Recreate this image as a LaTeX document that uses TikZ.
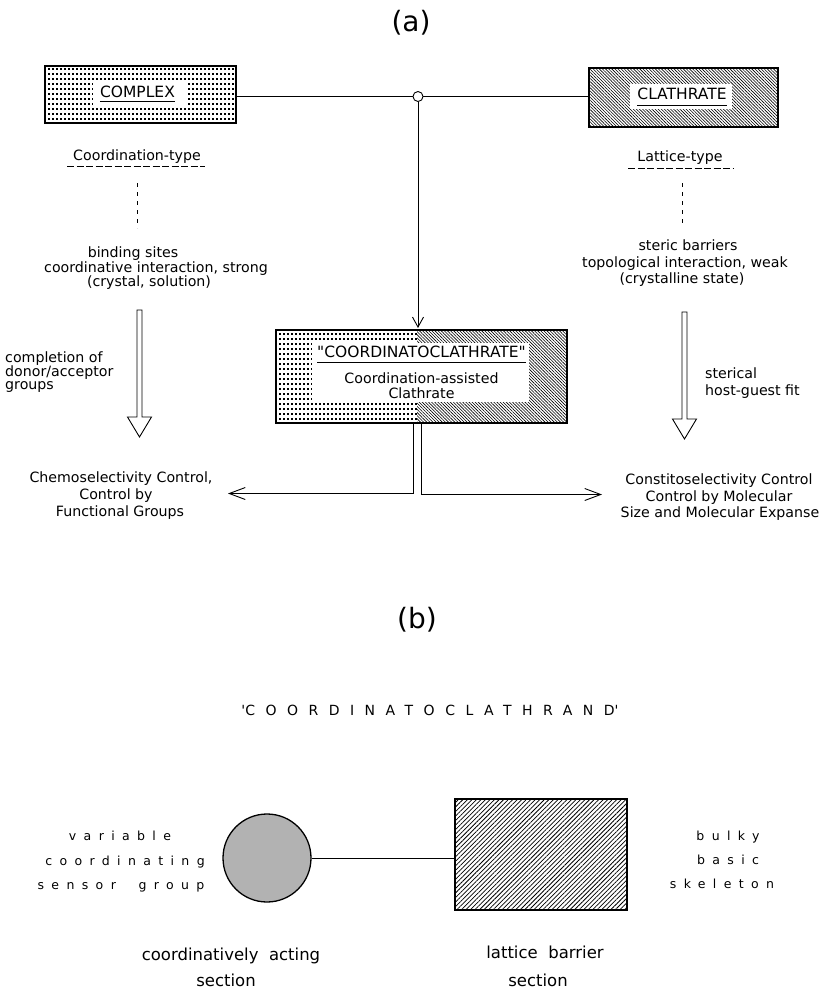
\documentclass[tikz,border=0pt]{standalone}
\usepackage{fontspec}
\setmainfont{DejaVu Sans}
\newfontfamily\widefont[LetterSpace=59]{DejaVu Sans}
\newfontfamily\widecaps[LetterSpace=75]{DejaVu Sans}
\usetikzlibrary{arrows.meta,patterns.meta}

% regular grid of small square dots: x-start, x-next, x-end, y-start, y-next, y-end
\newcommand\stipple[6]{%
  \foreach \sx in {#1,#2,...,#3}{%
    \foreach \sy in {#4,#5,...,#6}{%
      \fill (\sx,\sy) rectangle ++(1.5,1.5);}}}

\tikzset{
  lbl/.style={inner sep=0pt, anchor=base, font=\fontsize{14.2}{17}\selectfont},
  lblw/.style={lbl, anchor=base west},
  caps/.style={inner sep=0pt, anchor=base, font=\fontsize{15.5}{18}\selectfont},
  big/.style={inner sep=0pt, anchor=base, font=\fontsize{16.5}{19}\selectfont},
  spaced/.style={inner sep=0pt, anchor=base, font=\widefont\fontsize{12.5}{15}\selectfont},
  spacedcaps/.style={inner sep=0pt, anchor=base, font=\widecaps\fontsize{14}{17}\selectfont},
  panel/.style={inner sep=0pt, font=\fontsize{28}{32}\selectfont},
  boxnode/.style={inner sep=0pt, outer sep=0pt},
  frame/.style={draw, line width=1.3pt},
  wire/.style={line width=0.9pt},
  dashrule/.style={line width=1pt, dash pattern=on 7pt off 2.5pt},
  dashlink/.style={line width=0.9pt, dash pattern=on 4pt off 5pt},
  hatchNW/.style={pattern={Lines[angle=-45,distance=2.2pt,line width=0.6pt]}},
  hatchNE/.style={pattern={Lines[angle=45,distance=3.2pt,line width=0.75pt]}},
  barb/.style={-{Straight Barb[length=#1,width=12pt,line width=0.9pt]}},
  hollowdown/.pic={
    \draw[wire, line join=miter]
      (-2.5,0) -- (2.5,0) -- (2.5,107) -- (12,107) -- (0,127)
      -- (-12,107) -- (-2.5,107) -- cycle;
  },
}

\begin{document}
\begin{tikzpicture}[x=1pt,y=-1pt]
\useasboundingbox (0,0) rectangle (822,991);

% ---------------- panel (a) ----------------
\node[panel] (pa) at (411,23) {(a)};

% COMPLEX box (dotted)
\node[boxnode, minimum width=191pt, minimum height=57pt] (complex) at (140.5,94.5) {};
\stipple{48}{52}{232}{68}{73}{120}
\fill[white] (93,82) rectangle (188,106);
\draw[frame] (complex.south west) rectangle (complex.north east);
\node[caps] (complext) at (137.5,97) {COMPLEX};
\draw[wire] ([yshift=-4pt]complext.south west) -- ([yshift=-4pt]complext.south east);

% CLATHRATE box (hatched)
\node[boxnode, frame, hatchNW, minimum width=189pt, minimum height=59pt] (clath) at (683.5,97.5) {};
\fill[white] (630,84) rectangle (732,109);
\node[caps] (clatht) at (682,99) {CLATHRATE};
\draw[wire] ([yshift=-6.5pt]clatht.south west) -- ([yshift=-6.5pt]clatht.south east);

% junction between the two boxes
\node[circle, draw, wire, fill=white, minimum size=10pt, inner sep=0pt] (junc) at (418,96.5) {};
\draw[wire] (junc.west) -- (junc.west -| complex.east);
\draw[wire] (junc.east) -- (junc.east -| clath.west);

% combined box: dots on the left, hatching on the right
\node[boxnode, minimum width=291pt, minimum height=93pt] (cbox) at (421.5,376.5) {};
\stipple{279}{283}{415}{333}{338}{420}
\fill[hatchNW] (417,330) rectangle (567,423);
\fill[white] (312,343) rectangle (529,402);
\draw[frame] (cbox.south west) rectangle (cbox.north east);
\node[caps] (ctitle) at (421.5,357) {\textquotedbl COORDINATOCLATHRATE\textquotedbl};
\draw[wire] ([yshift=-5pt]ctitle.south west) -- ([yshift=-5pt]ctitle.south east);
\node[lbl] (cline1) at (421.5,383) {Coordination-assisted};
\node[lbl] (cline2) at (421.5,398) {Clathrate};

\draw[wire, -{Straight Barb[length=10pt,width=11pt,line width=0.9pt]}, shorten >=2pt]
  (junc.south) -- (junc.south |- cbox.north);

% left column
\node[lbl] (ctype) at (137,160) {Coordination-type};
\draw[dashrule] (67,166) -- (205,166);
\coordinate (ldashtop) at (137,183);
\coordinate (ldashbot) at (137,228);
\draw[dashlink] (ldashtop) -- (ldashbot);
\node[lbl] (bind1) at (133,257) {binding sites};
\node[lbl] (bind2) at (156,272) {coordinative interaction, strong};
\node[lbl] (bind3) at (149,286) {(crystal, solution)};
\pic (lflow) at (139.5,310) {hollowdown};
\node[lblw] (comp1) at (5,362) {completion of};
\node[lblw] (comp2) at (5,376) {donor/acceptor};
\node[lblw] (comp3) at (5,389) {groups};
\node[lbl] (chemo1) at (121,482) {Chemoselectivity Control,};
\node[lbl] (chemo2) at (116,499) {Control by};
\node[lbl] (chemo3) at (120,516) {Functional Groups};

% right column
\node[lbl] (ltype) at (680,161) {Lattice-type};
\draw[dashrule] (628,168) -- (733,168);
\coordinate (rdashtop) at (682,183);
\coordinate (rdashbot) at (682,223);
\draw[dashlink] (rdashtop) -- (rdashbot);
\node[lbl] (ster1) at (688,250) {steric barriers};
\node[lbl] (ster2) at (685,267) {topological interaction, weak};
\node[lbl] (ster3) at (682,283) {(crystalline state)};
\pic (rflow) at (684.5,312) {hollowdown};
\node[lblw] (fit1) at (705,378) {sterical};
\node[lblw] (fit2) at (705,395) {host-guest fit};
\node[lbl] (consti1) at (719,484) {Constitoselectivity Control};
\node[lbl] (consti2) at (719,501) {Control by Molecular};
\node[lbl] (consti3) at (720,517) {Size and Molecular Expanse};

% branches from the combined box
\coordinate (chemotip) at (228,493.5);
\coordinate (constitip) at (602,494.5);
\draw[wire, barb=16pt] ([xshift=-8.5pt]cbox.south) |- (chemotip);
\draw[wire, barb=16pt] ([xshift=-0.5pt]cbox.south) |- (constitip);

% ---------------- panel (b) ----------------
\node[panel] (pb) at (417,620) {(b)};
\node[spacedcaps] (cclathrand) at (430,715) {\textquotesingle COORDINATOCLATHRAND\textquotesingle};

\node[circle, draw, line width=1.3pt, fill=black!30, minimum size=88pt, inner sep=0pt] (sensor) at (267,858) {};
\node[boxnode, frame, hatchNE, minimum width=172pt, minimum height=111pt] (skel) at (541,854.5) {};
\draw[wire] (sensor.east) -- (sensor.east -| skel.west);

\node[spaced] (var1) at (120,840) {variable};
\node[spaced] (var2) at (125,865) {coordinating};
\node[spaced] (var3) at (121,889) {sensor\ \ group};

\node[spaced] (bulk1) at (728,840) {bulky};
\node[spaced] (bulk2) at (728,864) {basic};
\node[spaced] (bulk3) at (722,888) {skeleton};

\node[big] (act1) at (231,960) {coordinatively\ \ acting};
\node[big] (act2) at (226,986) {section};
\node[big] (bar1) at (545,958) {lattice\ \ barrier};
\node[big] (bar2) at (538,986) {section};
\end{tikzpicture}
\end{document}
